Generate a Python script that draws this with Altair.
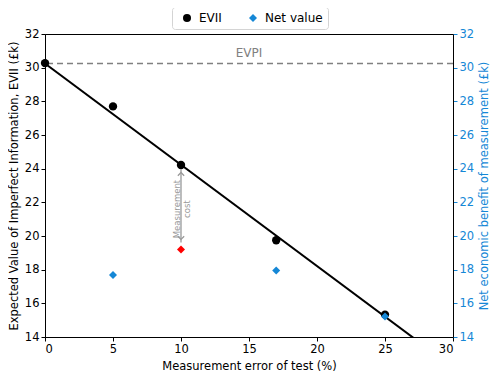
import altair as alt
import pandas as pd

# Data
error = [0, 5, 10, 17, 25]
evii = [30.27, 27.7, 24.22, 19.75, 15.33]
net_x = [5, 17, 25]
net_val = [17.68, 17.95, 15.22]
fit_x = [0, 30]
fit_y = [30.25, 12.2]
evpi = 30.25
evpi_label_x = 15
evpi_label_y = 30.85
red_x = [10]
red_y = [19.2]
arrow_x = 10
arrow_top = 23.95
arrow_bottom = 19.62
cost_label_y = 21.6

BLUE = "#1587d6"
FONT = "DejaVu Sans"

df_evii = pd.DataFrame({"x": error, "y": evii, "series": "EVII"})
df_net = pd.DataFrame({"x": net_x, "y": net_val, "series": "Net value"})
df_fit = pd.DataFrame({"x": fit_x, "y": fit_y})
df_red = pd.DataFrame({"x": red_x, "y": red_y})
df_evpi = pd.DataFrame({"y": [evpi]})
df_evpi_lab = pd.DataFrame({"x": [evpi_label_x], "y": [evpi_label_y], "t": ["EVPI"]})
df_arrow = pd.DataFrame({"x": [arrow_x], "y": [arrow_top], "y2": [arrow_bottom]})
df_heads = pd.DataFrame({"x": [arrow_x, arrow_x], "y": [arrow_top, arrow_bottom],
                         "dir": ["up", "down"]})
df_cost = pd.DataFrame({"x": [arrow_x], "y": [cost_label_y], "t": ["Measurement\ncost"]})

xscale = alt.Scale(domain=[0, 30], nice=False, zero=False)
yscale = alt.Scale(domain=[14, 32], nice=False, zero=False)
x_enc = alt.X("x:Q", scale=xscale,
              axis=alt.Axis(title="Measurement error of test (%)", values=list(range(0, 31, 5)),
                            titlePadding=6))
y_left = alt.Axis(title="Expected Value of Imperfect Information, EVII (£k)",
                  values=list(range(14, 33, 2)), titlePadding=5)

color_scale = alt.Scale(domain=["EVII", "Net value"], range=["black", BLUE])
shape_scale = alt.Scale(domain=["EVII", "Net value"], range=["circle", "diamond"])
legend = alt.Legend(title=None, orient="none", legendX=127, legendY=-27,
                    direction="horizontal", strokeColor="#d4d4d4", cornerRadius=3,
                    padding=5, labelFontSize=12, symbolSize=64, columnPadding=21,
                    symbolOffset=4, labelOffset=6,
                    labelFont=FONT, fillColor="white")

evpi_rule = alt.Chart(df_evpi).mark_rule(color="#808080", strokeWidth=1.6,
                                         strokeDash=[6, 4]).encode(
    y=alt.Y("y:Q", scale=yscale, axis=y_left))
evpi_text = alt.Chart(df_evpi_lab).mark_text(color="#808080", fontSize=12, font=FONT).encode(
    x=x_enc, y=alt.Y("y:Q", scale=yscale, axis=y_left), text="t:N")
fit_line = alt.Chart(df_fit).mark_line(color="black", strokeWidth=2, clip=True).encode(
    x=x_enc, y=alt.Y("y:Q", scale=yscale, axis=y_left))
evii_pts = alt.Chart(df_evii).mark_point(filled=True, size=70, opacity=1).encode(
    x=x_enc, y=alt.Y("y:Q", scale=yscale, axis=y_left),
    color=alt.Color("series:N", scale=color_scale, legend=legend),
    shape=alt.Shape("series:N", scale=shape_scale, legend=legend))
red_pt = alt.Chart(df_red).mark_point(filled=True, shape="diamond", size=64, color="red",
                                      opacity=1).encode(
    x=x_enc, y=alt.Y("y:Q", scale=yscale, axis=y_left))
arrow_shaft = alt.Chart(df_arrow).mark_rule(color="#999999", strokeWidth=1.3).encode(
    x=x_enc, y=alt.Y("y:Q", scale=yscale, axis=y_left), y2="y2:Q")
head_up = alt.Chart(df_heads[df_heads.dir == "up"]).mark_point(
    shape="M-1,1L0,0L1,1", size=40, filled=False, color="#999999", strokeWidth=1.3,
    yOffset=3, opacity=1).encode(x=x_enc, y=alt.Y("y:Q", scale=yscale, axis=y_left))
head_down = alt.Chart(df_heads[df_heads.dir == "down"]).mark_point(
    shape="M-1,-1L0,0L1,-1", size=40, filled=False, color="#999999", strokeWidth=1.3,
    yOffset=-3, opacity=1).encode(x=x_enc, y=alt.Y("y:Q", scale=yscale, axis=y_left))
cost_text = alt.Chart(df_cost).mark_text(color="#999999", fontSize=8.5, font=FONT, angle=270,
                                         lineBreak="\n", lineHeight=10, xOffset=-4.5,
                                         align="center", baseline="middle").encode(
    x=x_enc, y=alt.Y("y:Q", scale=yscale, axis=y_left), text="t:N")

left = alt.layer(evpi_rule, evpi_text, fit_line, arrow_shaft, head_up, head_down, cost_text,
                 red_pt, evii_pts)

net_pts = alt.Chart(df_net).mark_point(filled=True, size=64, opacity=1).encode(
    x=x_enc,
    y=alt.Y("y:Q", scale=yscale,
            axis=alt.Axis(title="Net economic benefit of measurement (£k)", orient="right",
                          values=list(range(14, 33, 2)), titlePadding=5, titleAngle=270,
                          titleBaseline="top",
                          labelColor=BLUE, tickColor=BLUE, titleColor=BLUE,
                          domainColor="black")),
    color=alt.Color("series:N", scale=color_scale, legend=legend),
    shape=alt.Shape("series:N", scale=shape_scale, legend=legend))

chart = alt.layer(left, net_pts).resolve_scale(y="independent").properties(
    width=408, height=303,
    autosize=alt.AutoSizeParams(type="none"),
    padding={"left": 37, "top": 26, "right": 38, "bottom": 35},
).configure_view(stroke="black", strokeWidth=1).configure_axis(
    grid=False, labelFont=FONT, titleFont=FONT, labelFontSize=11.5, titleFontSize=11.5,
    titleFontWeight="normal", labelColor="black", titleColor="black",
    domainColor="black", tickColor="black", tickSize=4, labelPadding=2,
).configure_legend(labelFont=FONT)

chart.save("out.html", embed_options={"renderer": "svg", "actions": False})
